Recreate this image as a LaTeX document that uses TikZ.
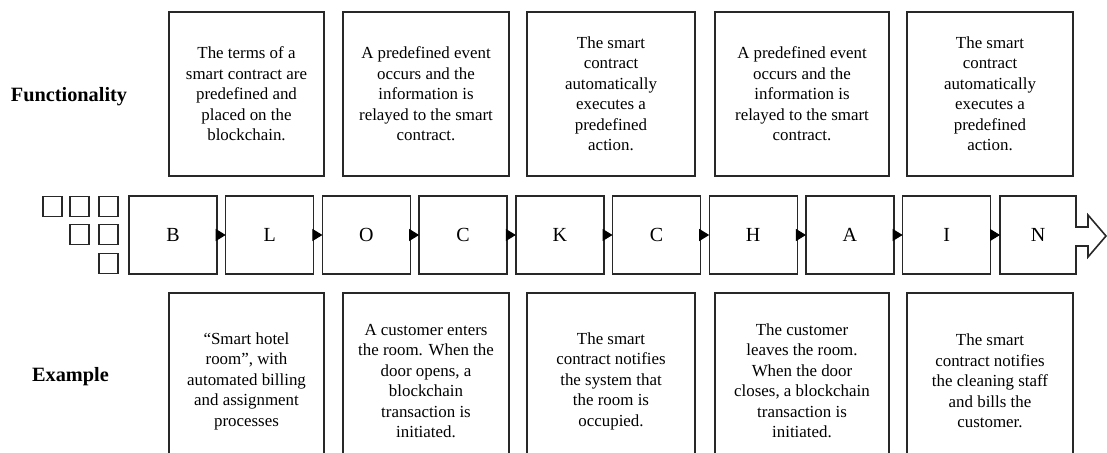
\documentclass[tikz,border=0pt]{standalone}
\usepackage{fontspec}
\setmainfont{Liberation Serif}
\usepackage{tikz}
\usetikzlibrary{arrows.meta}
\definecolor{edge}{RGB}{40,40,40}

\begin{document}
\begin{tikzpicture}
    [x=1bp,y=-1bp,
     box/.style={rectangle, draw=edge, line width=1.4bp, inner sep=0pt, outer sep=0pt,
       minimum height=164bp, align=center, font=\fontsize{16.9bp}{20.5bp}\selectfont},
     cell/.style={rectangle, draw=edge, line width=1.4bp, inner sep=0pt, outer sep=0pt,
       minimum width=88bp, minimum height=78bp, font=\fontsize{20bp}{24bp}\selectfont},
     sq/.style={rectangle, draw=edge, line width=1.3bp, inner sep=0pt, outer sep=0pt,
       minimum width=19bp, minimum height=20bp},
     lbl/.style={font=\fontsize{20.3bp}{24bp}\selectfont\bfseries, inner sep=0pt}]
    \useasboundingbox (0,0) rectangle (1107,453);
    \clip (0,0) rectangle (1107,453);

    \node[lbl] (func) at (69,97) {Functionality};
    \node[lbl] (exmp) at (70.5,377) {Example};

    % functionality boxes
    \node[box, minimum width=155bp] (f1) at (246.5,94) {The terms of a\\smart contract are\\predefined and\\placed on the\\blockchain.};
    \node[box, minimum width=166bp] (f2) at (426,94) {A predefined event\\occurs and the\\information is\\relayed to the smart\\contract.};
    \node[box, minimum width=168bp] (f3) at (611,94) {The smart\\contract\\automatically\\executes a\\predefined\\action.};
    \node[box, minimum width=174bp] (f4) at (802,94) {A predefined event\\occurs and the\\information is\\relayed to the smart\\contract.};
    \node[box, minimum width=166bp] (f5) at (990,94) {The smart\\contract\\automatically\\executes a\\predefined\\action.};

    % example boxes (run off the bottom)
    \node[box, minimum width=155bp, minimum height=176bp] (e1) at (246.5,381) {“Smart hotel\\room”, with\\automated billing\\and assignment\\processes};
    \node[box, minimum width=166bp, minimum height=176bp] (e2) at (426,381) {A customer enters\\the room. When the\\door opens, a\\blockchain\\transaction is\\initiated.};
    \node[box, minimum width=168bp, minimum height=176bp] (e3) at (611,381) {The smart\\contract notifies\\the system that\\the room is\\occupied.};
    \node[box, minimum width=174bp, minimum height=176bp] (e4) at (802,381) {The customer\\leaves the room.\\When the door\\closes, a blockchain\\transaction is\\initiated.};
    \node[box, minimum width=166bp, minimum height=176bp] (e5) at (990,381) {The smart\\contract notifies\\the cleaning staff\\and bills the\\customer.};

    % small squares
    \node[sq] (s1) at (52.5,206.5) {};
    \node[sq] (s2) at (79.5,206.5) {};
    \node[sq] (s3) at (108.5,206.5) {};
    \node[sq] (s4) at (79.5,234.5) {};
    \node[sq] (s5) at (108.5,234.5) {};
    \node[sq] (s6) at (108.5,263.5) {};

    % the chain
    \foreach \ch [count=\i from 0] in {B,L,O,C,K,C,H,A,I}
      \node[cell] (b\i) at (173+96.7*\i,235) {\ch};
    \node[cell, draw=none, minimum width=76bp] (b9) at (1038,235) {N};
    \draw[draw=edge, line width=1.6bp, line join=miter]
      (b9.north west) -- (b9.north east) -- ++(0,31) -- ++(12,0) -- ++(0,-12)
      -- ++(18,21) -- ++(-18,21) -- ++(0,-11) -- ++(-12,0) -- (b9.south east)
      -- (b9.south west) -- cycle;

    \foreach \from/\to in {b0/b1, b1/b2, b2/b3, b3/b4, b4/b5, b5/b6, b6/b7, b7/b8, b8/b9}
    \draw[black, line width=1bp, shorten <=-1bp, -{Triangle[length=10bp,width=12bp]}] (\from) -- (\to);
\end{tikzpicture}
\end{document}
